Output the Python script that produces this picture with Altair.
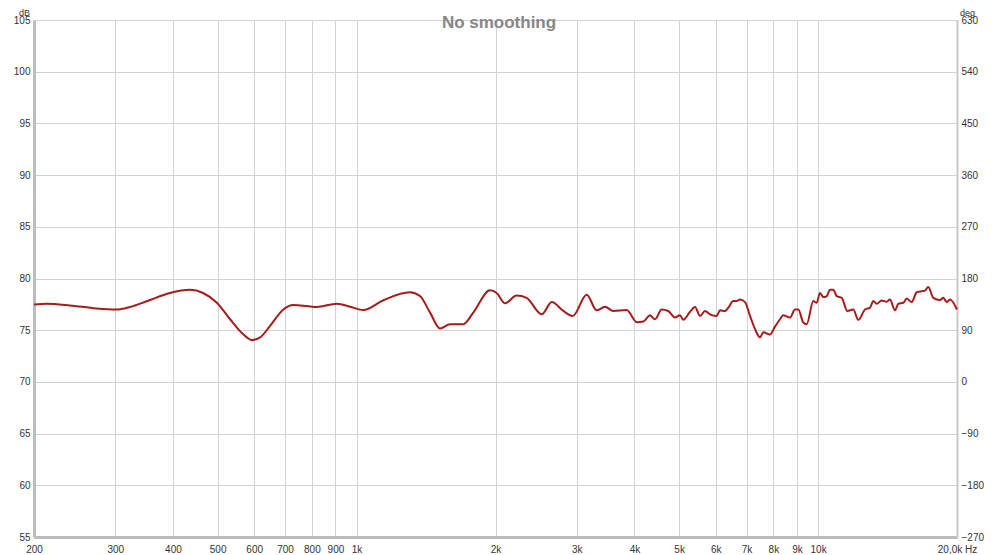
import altair as alt
import pandas as pd

freq = [200, 213, 239, 273, 302, 323, 351, 394, 436, 465, 498, 532, 568, 593, 618, 649,
        694, 729, 780, 820, 906, 968, 1034, 1143, 1305, 1372, 1443, 1516, 1594, 1703,
        1790, 1946, 2012, 2098, 2222, 2336, 2518, 2648, 2806, 2940, 3152, 3313, 3454,
        3600, 3849, 4046, 4182, 4324, 4433, 4583, 4736, 4897, 5022, 5104, 5278, 5412,
        5548, 5689, 5832, 6030, 6131, 6286, 6390, 6552, 6664, 6775, 6946, 7122, 7302,
        7486, 7610, 7866, 8066, 8270, 8406, 8692, 8913, 9060, 9290, 9448, 9764, 9931,
        10096, 10264, 10441, 10614, 10790, 10974, 11252, 11570, 11922, 12222, 12640,
        12960, 13174, 13398, 13736, 14084, 14316, 14678, 14922, 15298, 15560, 15952,
        16358, 16770, 17050, 17332, 17768, 18376, 18678, 18998, 19312, 20000]
db = [77.49, 77.56, 77.40, 77.10, 77.00, 77.25, 77.80, 78.60, 78.90, 78.60, 77.65, 76.06,
      74.60, 74.05, 74.30, 75.40, 77.00, 77.43, 77.34, 77.25, 77.56, 77.27, 76.95, 77.90,
      78.67, 78.30, 76.70, 75.17, 75.58, 75.58, 76.70, 78.86, 78.60, 77.60, 78.35, 78.13,
      76.54, 77.72, 76.86, 76.38, 78.44, 76.92, 77.27, 76.86, 76.95, 75.78, 75.84, 76.44,
      76.06, 77.00, 76.86, 76.22, 76.44, 76.00, 76.77, 77.25, 76.38, 76.86, 76.54, 76.38,
      76.92, 76.86, 77.18, 77.82, 77.82, 77.97, 77.72, 76.38, 75.10, 74.31, 74.80, 74.58,
      75.35, 76.06, 76.44, 76.22, 77.00, 77.00, 75.74, 75.58, 77.82, 77.65, 78.60, 78.20,
      78.30, 78.92, 78.92, 78.30, 78.13, 76.86, 77.00, 76.00, 77.00, 77.18, 77.82, 77.56,
      77.87, 77.75, 77.97, 76.92, 77.56, 77.65, 78.06, 77.72, 78.67, 78.77, 78.83, 79.18,
      78.13, 77.91, 78.13, 77.72, 77.97, 77.00]

x_ticks = [200, 300, 400, 500, 600, 700, 800, 900, 1000, 2000, 3000, 4000, 5000,
           6000, 7000, 8000, 9000, 10000, 20000]
x_labels = ["200", "300", "400", "500", "600", "700", "800", "900", "1k", "2k", "3k",
            "4k", "5k", "6k", "7k", "8k", "9k", "10k", "20,0k Hz"]
db_ticks = [55, 60, 65, 70, 75, 80, 85, 90, 95, 100, 105]
deg_ticks = [-270, -180, -90, 0, 90, 180, 270, 360, 450, 540, 630]
title_text = "No smoothing"

df = pd.DataFrame({"freq": freq, "db": db})
df["deg"] = (df["db"] - 70) * 18

label_expr = " : ".join(
    f"datum.value == {v} ? '{l}'" for v, l in zip(x_ticks, x_labels)
) + " : ''"

FONT = "Liberation Sans"
LBL = "#333333"

x_enc = alt.X(
    "freq:Q",
    scale=alt.Scale(type="log", domain=[200, 20000], nice=False),
    axis=alt.Axis(
        values=x_ticks, labelExpr=label_expr, title=None, ticks=False,
        labelPadding=7, labelFlush=False, labelOverlap=False,
        grid=True, gridColor="#d2d2d2", gridWidth=1,
        domainColor="#bdbdbd", domainWidth=3,
        labelFont=FONT, labelFontSize=10, labelColor=LBL,
    ),
)

line = alt.Chart(df).mark_line(color="#a51c1c", strokeWidth=2, interpolate="monotone").encode(
    x=x_enc,
    y=alt.Y(
        "db:Q",
        scale=alt.Scale(domain=[55, 105], nice=False, zero=False),
        axis=alt.Axis(
            values=db_ticks, title="dB", titleAngle=0, titleX=-10, titleY=-12,
            titleAlign="center", titleBaseline="top", titleFont=FONT,
            titleFontSize=9, titleFontWeight="normal", titleColor=LBL,
            ticks=False, labelPadding=4, labelFlush=False, labelOverlap=False,
            grid=True, gridColor="#d2d2d2", gridWidth=1,
            domainColor="#bdbdbd", domainWidth=3,
            labelFont=FONT, labelFontSize=10, labelColor=LBL,
        ),
    ),
)

right = alt.Chart(df).mark_line(opacity=0).encode(
    x=alt.X("freq:Q", scale=alt.Scale(type="log", domain=[200, 20000], nice=False)),
    y=alt.Y(
        "deg:Q",
        scale=alt.Scale(domain=[-270, 630], nice=False, zero=False),
        axis=alt.Axis(
            orient="right", values=deg_ticks, title="deg", titleAngle=0,
            titleX=10, titleY=-12, titleAlign="center", titleBaseline="top",
            titleFont=FONT, titleFontSize=9, titleFontWeight="normal", titleColor=LBL,
            ticks=False, labelPadding=4, labelFlush=False, labelOverlap=False,
            grid=False, domainColor="#c8c8c8", domainWidth=2,
            labelFont=FONT, labelFontSize=10, labelColor=LBL,
        ),
    ),
)

title = alt.Chart(pd.DataFrame({"t": [title_text]})).mark_text(
    font=FONT, fontSize=17, fontWeight="bold", color="#878787",
    align="center", baseline="middle",
).encode(text="t:N", x=alt.value(465), y=alt.value(3))

chart = alt.layer(line, right, title).resolve_scale(y="independent").properties(
    width=923, height=517,
    autosize=alt.AutoSizeParams(type="none"),
    padding={"left": 26, "top": 12, "right": 35, "bottom": 17},
).configure_view(stroke="#c8c8c8", strokeWidth=2).configure(background="white")

chart.save("out.html", embed_options={"renderer": "svg", "actions": False})
